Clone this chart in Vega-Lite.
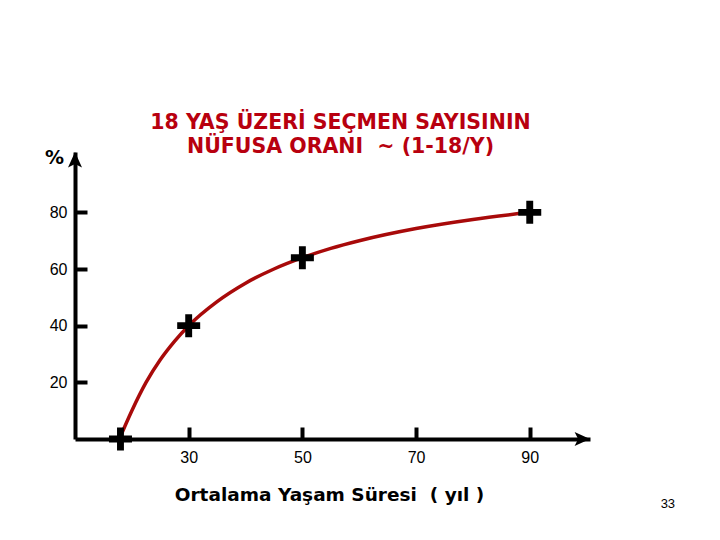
{
  "$schema": "https://vega.github.io/schema/vega-lite/v6.json",
  "autosize": "none",
  "width": 515,
  "height": 287,
  "padding": {"left": 75, "top": 152, "right": 130, "bottom": 101},
  "background": "white",
  "title": {
    "text": ["18 YAŞ ÜZERİ SEÇMEN SAYISININ", "NÜFUSA ORANI \u00a0~ (1-18/Y)"],
    "font": "DejaVu Sans",
    "fontSize": 20.5,
    "fontWeight": "bold",
    "color": "#b8000f",
    "anchor": "middle",
    "dx": 8,
    "offset": -9,
    "lineHeight": 24
  },
  "datasets": {
    "curve": [
      {"age": 17.8, "pct": 0},
      {"age": 20, "pct": 10},
      {"age": 22.5, "pct": 20},
      {"age": 25, "pct": 28},
      {"age": 27.5, "pct": 34.5},
      {"age": 30, "pct": 40},
      {"age": 35, "pct": 48.5},
      {"age": 40, "pct": 55},
      {"age": 45, "pct": 60},
      {"age": 50, "pct": 64},
      {"age": 55, "pct": 67.3},
      {"age": 60, "pct": 70},
      {"age": 70, "pct": 74.3},
      {"age": 80, "pct": 77.5},
      {"age": 90, "pct": 80}
    ],
    "marks": [
      {"age": 18, "pct": 0},
      {"age": 30, "pct": 40},
      {"age": 50, "pct": 64},
      {"age": 90, "pct": 80}
    ],
    "arrows": [
      {"age": 10, "pct": 101.3, "dir": "up"},
      {"age": 100.6, "pct": 0, "dir": "right"}
    ],
    "page": [{"age": 114.3, "pct": -23, "label": "33"}]
  },
  "layer": [
    {
      "data": {"name": "curve"},
      "mark": {"type": "line", "color": "#a80a0a", "strokeWidth": 3.5, "interpolate": "monotone", "clip": false},
      "encoding": {
        "x": {
          "field": "age", "type": "quantitative",
          "scale": {"domain": [10, 100.6], "nice": false, "zero": false},
          "axis": {
            "values": [30, 50, 70, 90],
            "title": "Ortalama Yaşam Süresi \u00a0( yıl )",
            "titleFont": "DejaVu Sans", "titleFontSize": 18.5, "titleFontWeight": "bold", "titleColor": "black",
            "titlePadding": 20,
            "titleX": 254,
            "grid": false,
            "domainColor": "black", "domainWidth": 4,
            "tickColor": "black", "tickWidth": 4, "tickSize": -12,
            "labelFont": "Liberation Sans", "labelFontSize": 16, "labelColor": "black",
            "labelPadding": 22
          }
        },
        "y": {
          "field": "pct", "type": "quantitative",
          "scale": {"domain": [0, 101.3], "nice": false},
          "axis": {
            "values": [20, 40, 60, 80],
            "title": "%",
            "titleAngle": 0, "titleX": -21, "titleY": 5,
            "titleAlign": "center", "titleBaseline": "middle",
            "titleFont": "DejaVu Sans", "titleFontSize": 19, "titleFontWeight": "bold", "titleColor": "black",
            "grid": false,
            "domainColor": "black", "domainWidth": 4,
            "tickColor": "black", "tickWidth": 4, "tickSize": -12,
            "labelFont": "Liberation Sans", "labelFontSize": 16, "labelColor": "black",
            "labelPadding": 20
          }
        }
      }
    },
    {
      "data": {"name": "marks"},
      "mark": {
        "type": "point", "filled": true, "color": "black", "opacity": 1,
        "shape": "M-1,-0.3H1V0.3H-1Z M-0.3,-1H0.3V1H-0.3Z",
        "size": 529
      },
      "encoding": {
        "x": {"field": "age", "type": "quantitative"},
        "y": {"field": "pct", "type": "quantitative"}
      }
    },
    {
      "data": {"name": "arrows"},
      "transform": [{"filter": "datum.dir === 'up'"}],
      "mark": {
        "type": "point", "filled": true, "color": "black", "opacity": 1,
        "shape": "M0,0L-1,2.2L0,1.7L1,2.2Z",
        "size": 196
      },
      "encoding": {
        "x": {"field": "age", "type": "quantitative"},
        "y": {"field": "pct", "type": "quantitative"}
      }
    },
    {
      "data": {"name": "arrows"},
      "transform": [{"filter": "datum.dir === 'right'"}],
      "mark": {
        "type": "point", "filled": true, "color": "black", "opacity": 1,
        "shape": "M0,0L-2.2,-1L-1.7,0L-2.2,1Z",
        "size": 196
      },
      "encoding": {
        "x": {"field": "age", "type": "quantitative"},
        "y": {"field": "pct", "type": "quantitative"}
      }
    },
    {
      "data": {"name": "page"},
      "mark": {"type": "text", "font": "Liberation Sans", "fontSize": 13, "color": "black", "align": "center", "baseline": "middle"},
      "encoding": {
        "x": {"field": "age", "type": "quantitative"},
        "y": {"field": "pct", "type": "quantitative"},
        "text": {"field": "label"}
      }
    }
  ],
  "config": {"view": {"stroke": null}}
}
